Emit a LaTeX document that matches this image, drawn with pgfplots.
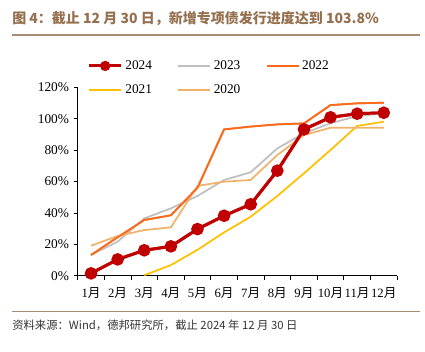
\documentclass[border=0pt]{standalone}
\usepackage{fontspec}
\setmainfont{Liberation Serif}
\newfontfamily\cjk{Noto Sans CJK SC}
\usepackage{pgfplots}
\pgfplotsset{compat=1.18}
\definecolor{c24}{HTML}{C00000}
\definecolor{c23}{HTML}{BFBFBF}
\definecolor{c22}{HTML}{FA6A1A}
\definecolor{c21}{HTML}{FFC000}
\definecolor{c20}{HTML}{F0B26A}
\definecolor{titlec}{HTML}{94704F}
\definecolor{rulec}{HTML}{A88A70}
\begin{document}
\begin{tikzpicture}[x=0.75pt,y=0.75pt]
\useasboundingbox (0,0) rectangle (425,352);
\node[anchor=west, font=\cjk\bfseries\fontsize{10.5}{12}\selectfont, text=titlec, inner sep=0] at (12,333) {图 4：截止 12 月 30 日，新增专项债发行进度达到 103.8\%};
\draw[rulec, line width=0.9pt] (12,317) -- (420,317);
\draw[rulec, line width=0.9pt] (12,40.5) -- (420,40.5);
\node[anchor=west, font=\cjk\fontsize{8.5}{10}\selectfont, text=black!80, inner sep=0] at (12,27) {资料来源：Wind，德邦研究所，截止 2024 年 12 月 30 日};
\begin{axis}[
  at={(58.3pt,57.2pt)}, anchor=south west,
  scale only axis, width=239.5pt, height=141.3pt,
  xmin=0.5, xmax=12.5, ymin=0, ymax=120,
  axis lines*=left,
  axis line style={-, black, line width=0.7pt},
  xtick={0.5,1.5,...,12.5},
  x tick label as interval,
  xticklabels={1{\cjk 月},2{\cjk 月},3{\cjk 月},4{\cjk 月},5{\cjk 月},6{\cjk 月},7{\cjk 月},8{\cjk 月},9{\cjk 月},10{\cjk 月},11{\cjk 月},12{\cjk 月}},
  ytick={0,20,...,120},
  yticklabels={0\%,20\%,40\%,60\%,80\%,100\%,120\%},
  tick align=outside, major tick length=3pt,
  tick style={black, line width=0.6pt},
  tick label style={font=\fontsize{10}{12}\selectfont},
  xticklabel style={font=\fontsize{9.5}{12}\selectfont, yshift=-2.5pt},
  legend columns=3,
  legend cell align=left,
  legend style={at={(0.018,1.172)}, anchor=north west, draw=none, fill=none,
    font=\fontsize{10}{12}\selectfont, row sep=6pt,
    /tikz/every even column/.append style={column sep=17pt}},
  legend image code/.code={\draw[mark repeat=2,mark phase=2,#1] plot coordinates {(0pt,0pt) (12pt,0pt) (24pt,0pt)};},
]
\addplot[c24, line width=2.2pt, mark=*, mark size=3.6pt, mark options={scale=0.75}] coordinates {(1,1.5)(2,10.4)(3,16.2)(4,18.7)(5,29.7)(6,38.2)(7,45.5)(8,66.9)(9,93.2)(10,100.9)(11,103.2)(12,103.8)};
\addlegendentry{2024}
\addplot[c23, line width=1.3pt] coordinates {(1,13.2)(2,21.7)(3,36.5)(4,42.9)(5,50.8)(6,61)(7,65.9)(8,81.1)(9,90.7)(10,97.1)(11,101.7)(12,103.4)};
\addlegendentry{2023}
\addplot[c22, line width=1.3pt] coordinates {(1,13.2)(2,24.5)(3,35.5)(4,38.5)(5,56)(6,93.2)(7,95)(8,96.4)(9,97)(10,108.7)(11,109.8)(12,110.2)};
\addlegendentry{2022}
\addplot[c21, line width=1.3pt] coordinates {(3,0.3)(4,6.8)(5,16.5)(6,27.6)(7,37.6)(8,50.8)(9,65.2)(10,80.1)(11,95.4)(12,98.1)};
\addlegendentry{2021}
\addplot[c20, line width=1.3pt] coordinates {(1,19.1)(2,25.3)(3,29.1)(4,30.8)(5,57.2)(6,59.9)(7,61)(8,76.9)(9,89.6)(10,94.3)(11,94.3)(12,94.3)};
\addlegendentry{2020}
\addplot[c22, line width=1.3pt, forget plot] coordinates {(1,13.2)(2,24.5)(3,35.5)(4,38.5)(5,56)(6,93.2)(7,95)(8,96.4)(9,97)(10,108.7)(11,109.8)(12,110.2)};
\addplot[c24, line width=2.2pt, mark=*, mark size=3.6pt, forget plot] coordinates {(1,1.5)(2,10.4)(3,16.2)(4,18.7)(5,29.7)(6,38.2)(7,45.5)(8,66.9)(9,93.2)(10,100.9)(11,103.2)(12,103.8)};
\end{axis}
\end{tikzpicture}
\end{document}
